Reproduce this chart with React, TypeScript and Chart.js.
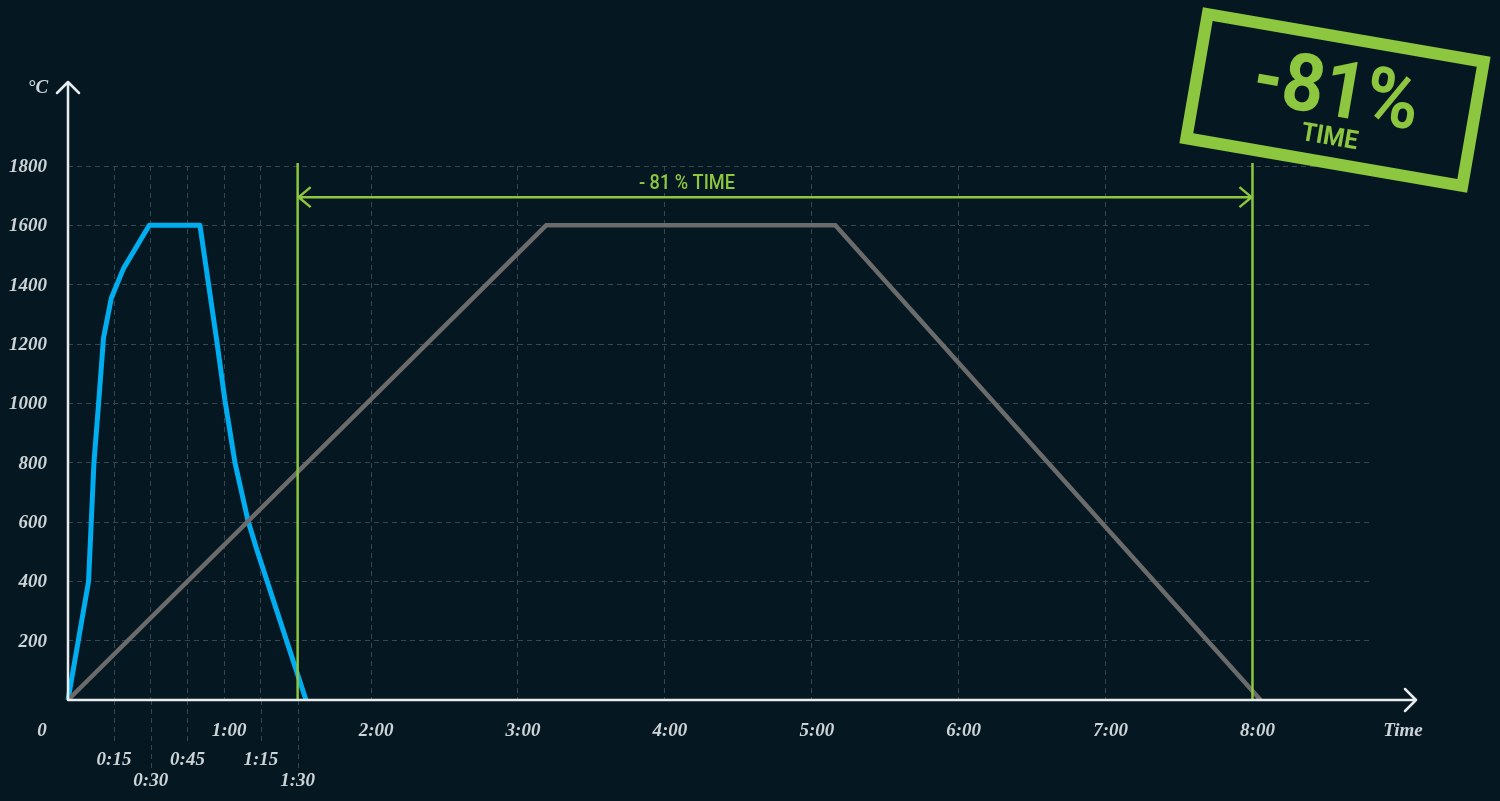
import React, { useEffect, useRef } from "react";
import { Chart, registerables } from "chart.js";

Chart.register(...registerables);

// ---- data ----
const blueTime = [-3.8, 4.6, 5.7, 6.8, 8.7, 10.7, 13.9, 18.9, 29.4, 50.1, 56.9, 60.3, 64.4, 69.7, 73.4, 93.4];
const blueTemp = [0, 400, 600, 800, 1000, 1220, 1355, 1455, 1600, 1600, 1215, 1010, 800, 605, 505, 0];

const grayTime = [-3.8, 191.5, 309.6, 483.3];
const grayTemp = [0, 1600, 1600, 0];

const xTickSec = [15, 30, 45, 60, 75, 90, 120, 180, 240, 300, 360, 420, 480];
const xTickLabels = ["0:15", "0:30", "0:45", "1:00", "1:15", "1:30", "2:00", "3:00", "4:00", "5:00", "6:00", "7:00", "8:00"];
const xTickRow = [2, 3, 2, 1, 2, 3, 1, 1, 1, 1, 1, 1, 1];

const yTickValues = [200, 400, 600, 800, 1000, 1200, 1400, 1600, 1800];

const markerSec = [90, 480];
const markerLabel = "- 81 % TIME";
const markerLabelSec = 249;
const arrowTemp = 1695;

const stampBig = "-81%";
const stampSmall = "TIME";
const yUnit = "°C";
const xUnit = "Time";
const originLabel = "0";

// ---- styles ----
const BG = "#051821";
const GRID = "#34464f";
const LABEL = "#cdd4d8";
const AXIS = "#e8ecee";
const GREEN = "#8dc63f";
const BLUE = "#00aeef";
const GRAY = "#6b6b6b";
const SERIF = "'Liberation Serif', 'DejaVu Serif', serif";
const SANS = "Roboto, 'Liberation Sans', sans-serif";

function drawFitText(ctx: CanvasRenderingContext2D, text: string, cx: number, baseline: number, width: number) {
  const w = ctx.measureText(text).width;
  ctx.save();
  ctx.translate(cx, baseline);
  ctx.scale(width / w, 1);
  ctx.textAlign = "center";
  ctx.textBaseline = "alphabetic";
  ctx.fillText(text, 0, 0);
  ctx.restore();
}

const decorPlugin = {
  id: "decor",
  beforeDraw(chart: any) {
    const ctx = chart.ctx as CanvasRenderingContext2D;
    ctx.save();
    ctx.fillStyle = BG;
    ctx.fillRect(0, 0, chart.width, chart.height);
    ctx.restore();
  },
  afterDatasetsDraw(chart: any) {
    const ctx = chart.ctx as CanvasRenderingContext2D;
    const xs = chart.scales.x;
    const ys = chart.scales.y;
    const area = chart.chartArea;
    const x0 = area.left;
    const y0 = area.bottom;

    ctx.save();
    // minor grid extensions below axis
    ctx.strokeStyle = GRID;
    ctx.lineWidth = 1;
    ctx.setLineDash([5, 4]);
    xTickSec.forEach((s, i) => {
      if (xTickRow[i] === 1) return;
      const px = Math.round(xs.getPixelForValue(s)) + 0.5;
      ctx.beginPath();
      ctx.moveTo(px, y0);
      ctx.lineTo(px, xTickRow[i] === 2 ? y0 + 45 : y0 + 68);
      ctx.stroke();
    });
    ctx.setLineDash([]);

    // green markers
    ctx.strokeStyle = GREEN;
    ctx.lineWidth = 2.5;
    const mx = markerSec.map((s) => xs.getPixelForValue(s));
    mx.forEach((px) => {
      ctx.beginPath();
      ctx.moveTo(px, area.top - 3);
      ctx.lineTo(px, y0);
      ctx.stroke();
    });
    const ay = ys.getPixelForValue(arrowTemp);
    ctx.beginPath();
    ctx.moveTo(mx[0], ay);
    ctx.lineTo(mx[1], ay);
    ctx.moveTo(mx[0] + 13, ay - 10);
    ctx.lineTo(mx[0] + 1, ay);
    ctx.lineTo(mx[0] + 13, ay + 10);
    ctx.moveTo(mx[1] - 13, ay - 10);
    ctx.lineTo(mx[1] - 1, ay);
    ctx.lineTo(mx[1] - 13, ay + 10);
    ctx.stroke();
    ctx.fillStyle = GREEN;
    ctx.font = `500 21px ${SANS}`;
    drawFitText(ctx, markerLabel, xs.getPixelForValue(markerLabelSec), ay - 8, 96);

    // axes
    ctx.strokeStyle = AXIS;
    ctx.lineWidth = 2.5;
    ctx.lineCap = "round";
    ctx.lineJoin = "round";
    ctx.beginPath();
    ctx.moveTo(x0, y0);
    ctx.lineTo(x0, 82);
    ctx.moveTo(x0 - 11, 93);
    ctx.lineTo(x0, 82);
    ctx.lineTo(x0 + 11, 93);
    ctx.moveTo(x0, y0);
    ctx.lineTo(1416, y0);
    ctx.moveTo(1405, y0 - 11);
    ctx.lineTo(1416, y0);
    ctx.lineTo(1405, y0 + 11);
    ctx.stroke();

    // labels
    ctx.fillStyle = LABEL;
    ctx.font = `italic bold 19px ${SERIF}`;
    ctx.textBaseline = "middle";
    ctx.textAlign = "right";
    yTickValues.forEach((v) => {
      ctx.fillText(String(v), x0 - 21, ys.getPixelForValue(v) + 1);
    });
    ctx.textAlign = "center";
    const rowY = [0, y0 + 31, y0 + 60, y0 + 81];
    xTickSec.forEach((s, i) => {
      const px = xs.getPixelForValue(s) + (xTickRow[i] === 1 ? 5 : 0);
      ctx.fillText(xTickLabels[i], px, rowY[xTickRow[i]]);
    });
    ctx.fillText(originLabel, 42, rowY[1]);
    ctx.fillText(xUnit, 1403, rowY[1]);
    ctx.fillText(yUnit, 38, 88);

    // stamp
    ctx.save();
    ctx.translate(1335, 100);
    ctx.rotate((9.8 * Math.PI) / 180);
    ctx.strokeStyle = GREEN;
    ctx.lineWidth = 12;
    ctx.lineJoin = "miter";
    ctx.strokeRect(-140, -63, 280, 126);
    ctx.fillStyle = GREEN;
    ctx.font = `bold 80px ${SANS}`;
    drawFitText(ctx, stampBig, 0, 16, 167);
    ctx.font = `bold 26px ${SANS}`;
    drawFitText(ctx, stampSmall, 1, 45, 57);
    ctx.restore();

    ctx.restore();
  },
};

export default function App() {
  const ref = useRef<HTMLCanvasElement | null>(null);

  useEffect(() => {
    document.body.style.margin = "0";
    document.body.style.background = BG;
    document.body.style.overflow = "hidden";
    const canvas = ref.current;
    if (!canvas) return;
    const chart = new Chart(canvas, {
      type: "line",
      data: {
        datasets: [
          {
            data: grayTime.map((t, i) => ({ x: t, y: grayTemp[i] })),
            borderColor: GRAY,
            borderWidth: 4.5,
            pointRadius: 0,
            tension: 0,
            clip: false,
          } as any,
          {
            data: blueTime.map((t, i) => ({ x: t, y: blueTemp[i] })),
            borderColor: BLUE,
            borderWidth: 5,
            pointRadius: 0,
            tension: 0,
            borderJoinStyle: "round",
            clip: false,
          } as any,
        ],
      },
      options: {
        animation: false,
        responsive: false,
        layout: { padding: { top: 166, right: 130, left: 0, bottom: 0 } },
        plugins: { legend: { display: false }, tooltip: { enabled: false } },
        scales: {
          x: {
            type: "linear",
            min: -3.8,
            max: 528,
            afterBuildTicks: (s: any) => {
              s.ticks = xTickSec.map((v) => ({ value: v }));
            },
            afterFit: (s: any) => {
              s.height = 101;
            },
            ticks: { display: false },
            grid: { color: GRID, lineWidth: 1, drawTicks: false },
            border: { display: false, dash: [5, 4] },
          },
          y: {
            type: "linear",
            min: 0,
            max: 1800,
            afterFit: (s: any) => {
              s.width = 68;
            },
            ticks: { display: false, stepSize: 200 },
            grid: {
              color: (c: any) => (c.tick && c.tick.value === 0 ? "rgba(0,0,0,0)" : GRID),
              lineWidth: 1,
              drawTicks: false,
            },
            border: { display: false, dash: [5, 4] },
          },
        },
      } as any,
      plugins: [decorPlugin],
    });
    return () => chart.destroy();
  }, []);

  return (
    <div style={{ width: 1500, height: 801, background: BG }}>
      <canvas ref={ref} width={1500} height={801} style={{ display: "block" }} />
    </div>
  );
}
